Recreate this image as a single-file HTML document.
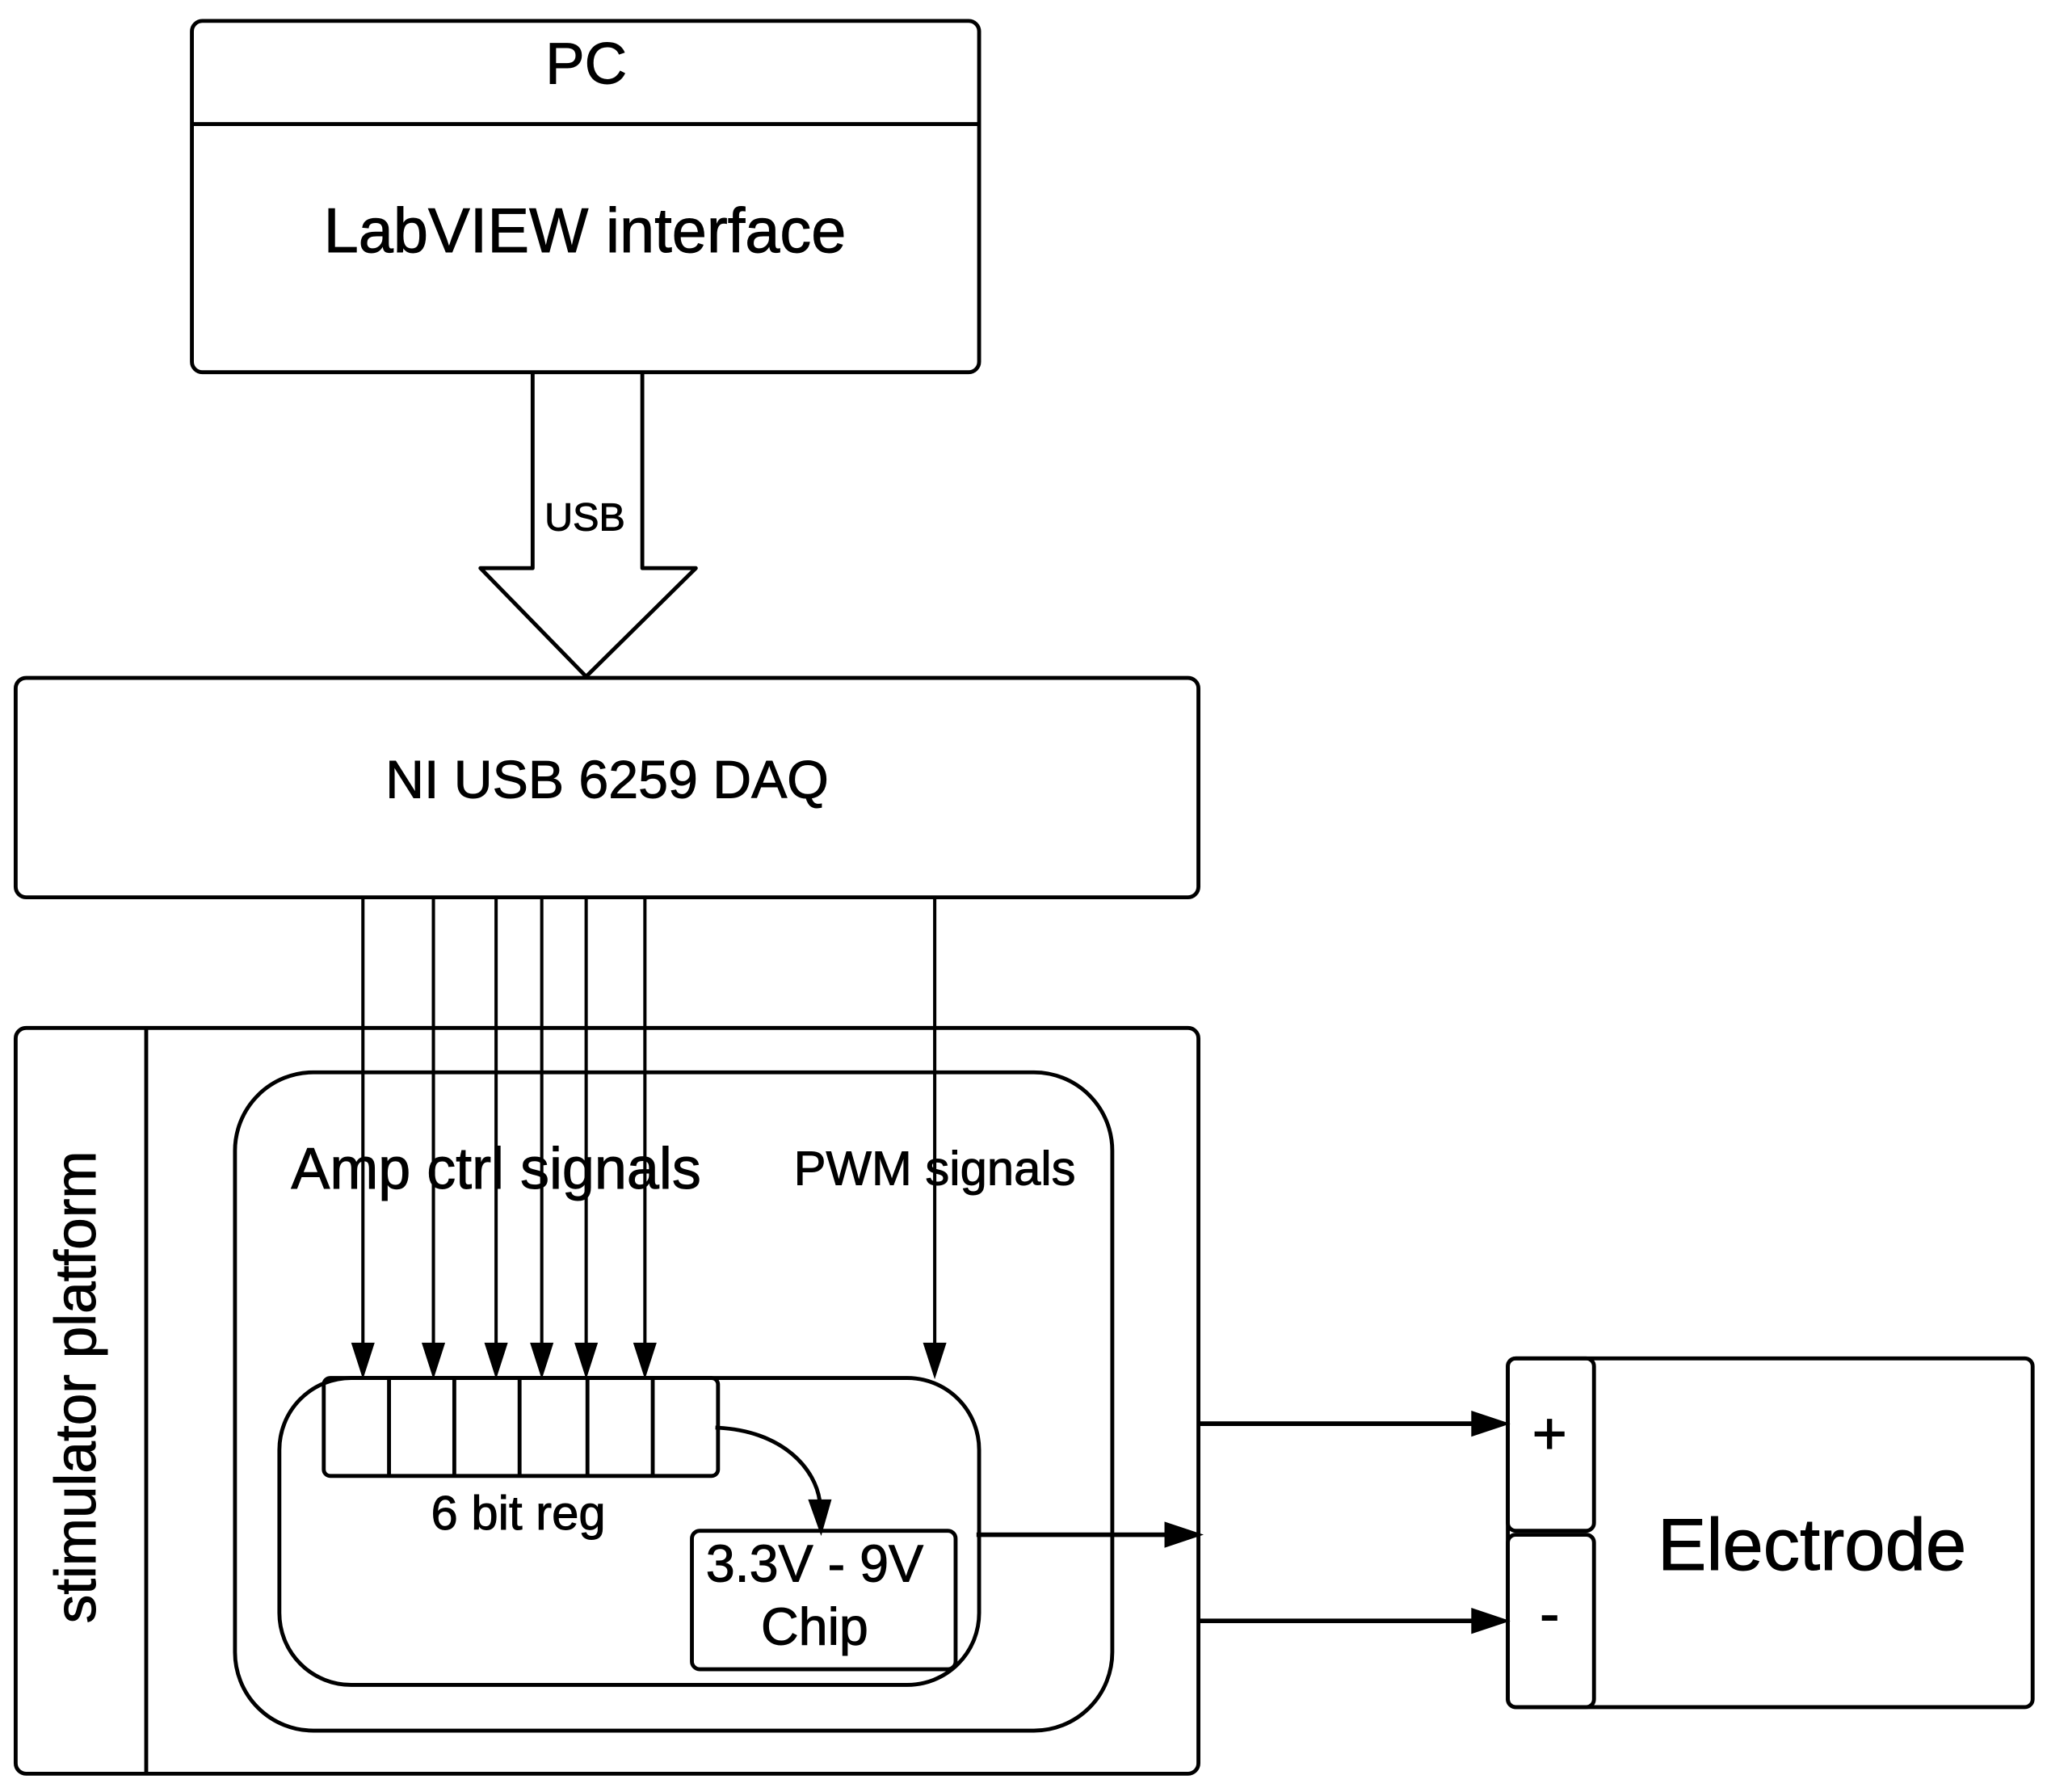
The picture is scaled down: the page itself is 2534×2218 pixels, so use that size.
<!DOCTYPE html>
<html><head><style>
html,body{margin:0;padding:0;background:#fff;}
svg{display:block;}
text{font-family:"Liberation Sans",sans-serif;fill:#000;stroke:#000;stroke-width:0.6;}
</style></head><body>
<svg width="2534" height="2218" viewBox="0 0 1568 1372" preserveAspectRatio="none" xmlns="http://www.w3.org/2000/svg">
<g fill="none" stroke="#000" stroke-width="3">
<rect x="147" y="16" width="603" height="269" rx="8"/>
<line x1="147" y1="95" x2="750" y2="95"/>
<path d="M408,285 L408,435 L368,435 L449,518 L533,435 L492,435 L492,285" stroke-linejoin="round"/>
<rect x="12" y="519" width="906" height="168" rx="8"/>
<rect x="12" y="787" width="906" height="571" rx="8"/>
<line x1="112" y1="787" x2="112" y2="1358"/>
<rect x="180" y="821" width="672" height="504" rx="60"/>
<rect x="214" y="1055" width="536" height="235" rx="55"/>
<rect x="248" y="1055" width="302" height="75" rx="5"/>
<line x1="298" y1="1055" x2="298" y2="1130"/>
<line x1="348" y1="1055" x2="348" y2="1130"/>
<line x1="398" y1="1055" x2="398" y2="1130"/>
<line x1="450" y1="1055" x2="450" y2="1130"/>
<line x1="500" y1="1055" x2="500" y2="1130"/>
<rect x="530" y="1172" width="202" height="106" rx="6"/>
<path d="M548,1093 C600,1095 625,1125 628,1150"/>
<rect x="1155" y="1040" width="402" height="267" rx="6"/>
<rect x="1155" y="1040" width="66" height="132" rx="6"/>
<rect x="1155" y="1175" width="66" height="132" rx="6"/>
</g>
<g stroke="#000" stroke-width="2.5">
<line x1="278" y1="687" x2="278" y2="1030"/>
<line x1="332" y1="687" x2="332" y2="1030"/>
<line x1="380" y1="687" x2="380" y2="1030"/>
<line x1="415" y1="687" x2="415" y2="1030"/>
<line x1="449" y1="687" x2="449" y2="1030"/>
<line x1="494" y1="687" x2="494" y2="1030"/>
<line x1="716" y1="687" x2="716" y2="1030"/>
</g>
<g stroke="#000" stroke-width="3.5">
<line x1="918" y1="1090" x2="1130" y2="1090"/>
<line x1="748" y1="1175" x2="895" y2="1175"/>
<line x1="918" y1="1241" x2="1130" y2="1241"/>
</g>
<g fill="#000">
<polygon points="269,1028 287,1028 278,1056"/>
<polygon points="323,1028 341,1028 332,1056"/>
<polygon points="371,1028 389,1028 380,1056"/>
<polygon points="406,1028 424,1028 415,1056"/>
<polygon points="440,1028 458,1028 449,1056"/>
<polygon points="485,1028 503,1028 494,1056"/>
<polygon points="707,1028 725,1028 716,1056"/>
<polygon points="619,1148 637,1148 629,1176"/>
<polygon points="1127,1080 1127,1100 1157,1090"/>
<polygon points="892,1165 892,1185 922,1175"/>
<polygon points="1127,1231 1127,1251 1157,1241"/>
</g>
<text x="449" y="64" font-size="45" text-anchor="middle">PC</text>
<text x="448" y="193" font-size="48" text-anchor="middle">LabVIEW interface</text>
<text x="448" y="406" font-size="30" text-anchor="middle">USB</text>
<text x="465" y="611" font-size="41" text-anchor="middle">NI USB 6259 DAQ</text>
<text x="380" y="910" font-size="44.5" text-anchor="middle">Amp ctrl signals</text>
<text x="716" y="907" font-size="37" text-anchor="middle">PWM signals</text>
<text x="397" y="1171" font-size="37" text-anchor="middle">6 bit reg</text>
<text x="624" y="1211" font-size="40" text-anchor="middle">3.3V - 9V</text>
<text x="624" y="1259" font-size="40" text-anchor="middle">Chip</text>
<text x="1187" y="1113" font-size="46" text-anchor="middle">+</text>
<text x="1187" y="1251" font-size="46" text-anchor="middle">-</text>
<text x="1388" y="1202" font-size="56" text-anchor="middle">Electrode</text>
<text transform="translate(73,1062) rotate(-90)" font-size="44" text-anchor="middle">stimulator platform</text>
</svg>
</body></html>
